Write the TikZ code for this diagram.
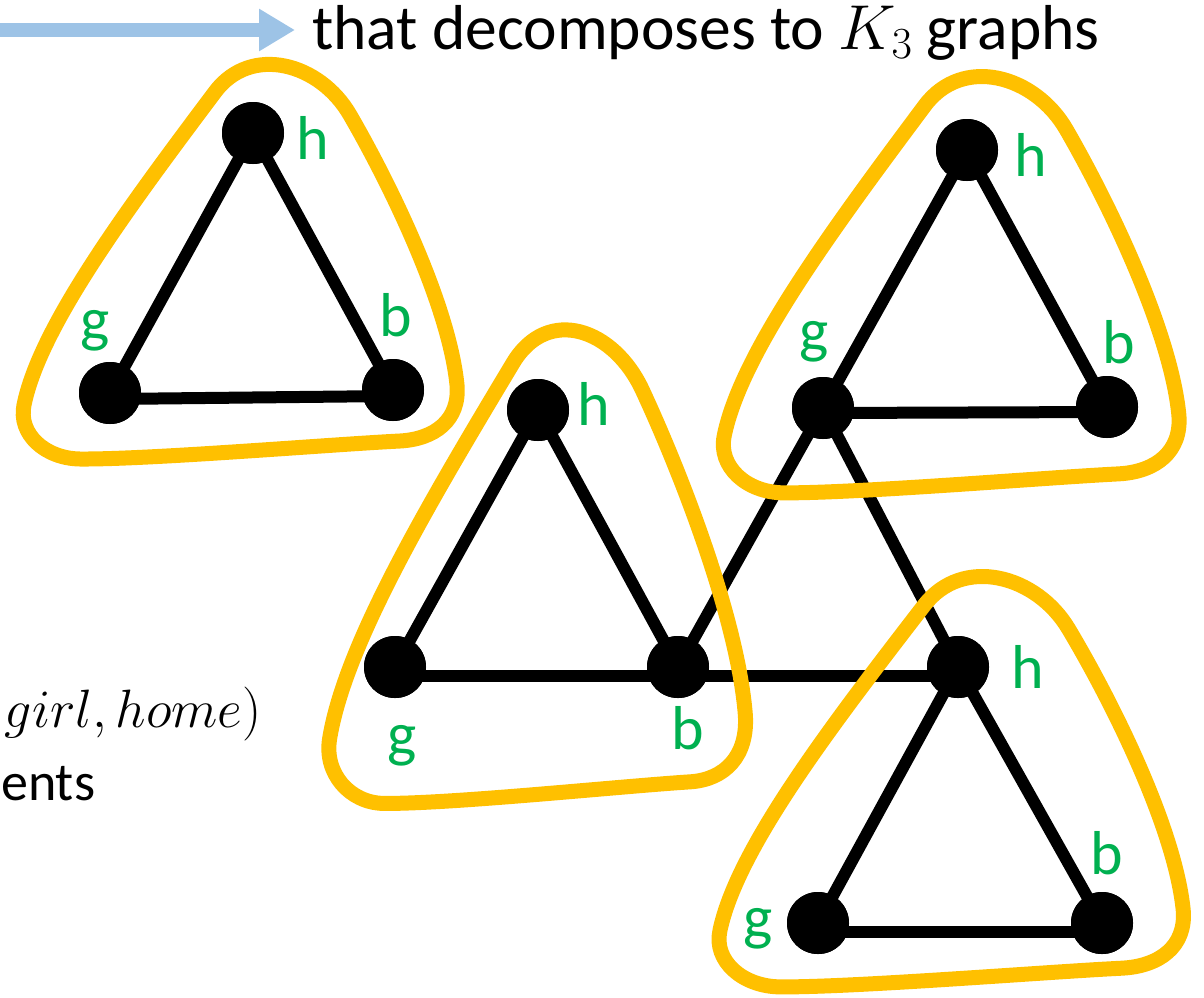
\RequirePackage{fix-cm}
\documentclass[tikz,border=0pt]{standalone}
\usepackage{fontspec}
\setmainfont{Carlito}
\usetikzlibrary{arrows.meta}
\definecolor{hyellow}{HTML}{FFC000}
\definecolor{lgreen}{HTML}{00B050}
\definecolor{lblue}{HTML}{9DC3E6}
\newcommand{\hullpath}{(24,405) .. controls (40,327) and (125,212) .. (215,92)
 .. controls (251,44) and (320,63) .. (350,115)
 .. controls (390,184) and (449,305) .. (457,385)
 .. controls (460,420) and (435,439) .. (400,441)
 .. controls (330,444.5) and (150,459.5) .. (80,459)
 .. controls (45,458.5) and (18,434) .. cycle}
\begin{document}
\begin{tikzpicture}[x=1pt,y=-1pt,
  vtx/.style={circle,fill=black,minimum size=62pt,inner sep=0pt},
  edge/.style={line width=12pt,black},
  hull/.style={line width=15pt,hyellow,line join=round},
  lab/.style={text=lgreen,inner sep=0pt,font=\fontsize{62}{72}\selectfont},
  txt/.style={inner sep=0pt,font=\fontsize{63.5}{72}\selectfont}]
\useasboundingbox (0,0) rectangle (1204,997);
% arrow and title
\coordinate (arrS) at (-10,30);
\coordinate (arrE) at (295,30);
\draw[line width=14pt,lblue,-{Triangle[length=36pt,width=40pt]}] (arrS) -- (arrE);
\node[txt,anchor=base west] (title) at (312,49) {that decomposes to $K_3$ graphs};
\node[inner sep=0pt,anchor=base east,font=\fontsize{54}{60}\selectfont] (m1) at (262,727) {$girl, home)$};
\node[inner sep=0pt,anchor=base west,font=\fontsize{54}{60}\selectfont] (m2) at (1,800) {ents};
% triangle 1
\node[vtx] (h1) at (253,133) {};
\node[vtx] (g1) at (110,393) {};
\node[vtx] (b1) at (393,390) {};
% triangle 2
\node[vtx] (h2) at (538,410) {};
\node[vtx] (g2) at (395,667) {};
\node[vtx] (b2) at (678,667) {};
% triangle 3
\node[vtx] (h3) at (967,150) {};
\node[vtx] (g3) at (823,408) {};
\node[vtx] (b3) at (1107,407) {};
% triangle 4
\node[vtx] (h4) at (958,667) {};
\node[vtx] (g4) at (818,923) {};
\node[vtx] (b4) at (1102,923) {};
% edges
\draw[edge] (h1.center) -- (g1.center);
\draw[edge] (h1.center) -- (b1.center);
\draw[edge] ([yshift=-6pt]g1.center) -- ([yshift=-6pt]b1.center);
\draw[edge] (h2.center) -- (g2.center);
\draw[edge] (h2.center) -- (b2.center);
\draw[edge] ([yshift=-9pt]g2.center) -- ([yshift=-9pt]b2.center);
\draw[edge] ([yshift=-9pt]b2.center) -- ([yshift=-9pt]h4.center);
\draw[edge] (h3.center) -- (g3.center);
\draw[edge] (h3.center) -- (b3.center);
\draw[edge] ([yshift=-5pt]g3.center) -- ([yshift=-5pt]b3.center);
\draw[edge] (g3.center) -- (b2.center);
\draw[edge] (g3.center) -- (h4.center);
\draw[edge] (h4.center) -- (g4.center);
\draw[edge] (h4.center) -- (b4.center);
\draw[edge] ([yshift=-9pt]g4.center) -- ([yshift=-9pt]b4.center);
% vertices on top of edges
\foreach \v in {h1,g1,b1,h2,g2,b2,h3,g3,b3,h4,g4,b4}
  \fill (\v) circle (31pt);
% labels
\node[lab] (lh1) at (313,138) {h};
\node[lab] (lg1) at (95,331) {g};
\node[lab] (lb1) at (396,315) {b};
\node[lab] (lh2) at (594,404) {h};
\node[lab] (lg2) at (402,746) {g};
\node[lab] (lb2) at (688,728) {b};
\node[lab] (lh3) at (1031,155) {h};
\node[lab] (lg3) at (814,342) {g};
\node[lab] (lb3) at (1119,342) {b};
\node[lab] (lh4) at (1028,667) {h};
\node[lab] (lg4) at (758,929) {g};
\node[lab] (lb4) at (1107,853) {b};
% hulls
\draw[hull] \hullpath;
\begin{scope}[shift={(537,567)},xscale=0.96,yscale=1.2,shift={(-240,-262)}]
\draw[hull] \hullpath;
\end{scope}
\begin{scope}[shift={(951,285)},xscale=1.05,yscale=1.055,shift={(-240,-262)}]
\draw[hull] \hullpath;
\end{scope}
\begin{scope}[shift={(951,782)},xscale=1.07,yscale=1.04,shift={(-240,-262)}]
\draw[hull] \hullpath;
\end{scope}
\end{tikzpicture}
\end{document}
